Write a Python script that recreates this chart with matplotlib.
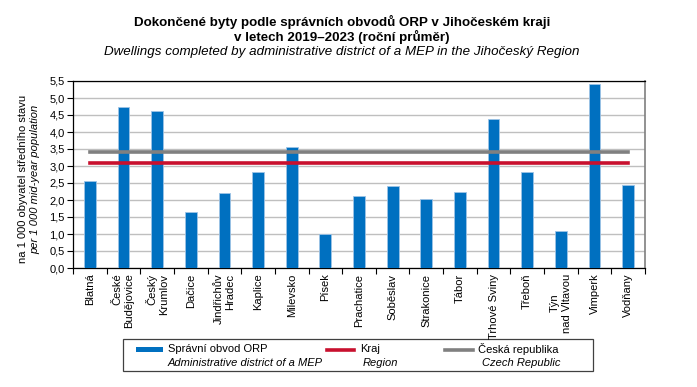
import matplotlib
matplotlib.use("Agg")
import matplotlib.pyplot as plt
import numpy as np
from matplotlib.lines import Line2D
from matplotlib.patches import Rectangle

plt.rcParams["font.family"] = ["Liberation Sans", "DejaVu Sans"]

districts = ["Blatná", "České\nBudějovice", "Český\nKrumlov", "Dačice", "Jindřichův\nHradec",
             "Kaplice", "Milevsko", "Písek", "Prachatice", "Soběslav", "Strakonice", "Tábor",
             "Trhové Sviny", "Třeboň", "Týn\nnad Vltavou", "Vimperk", "Vodňany"]
orp = [2.56, 4.74, 4.62, 1.66, 2.20, 2.83, 3.57, 1.00, 2.12, 2.40, 2.03, 2.24,
       4.38, 2.81, 1.08, 5.41, 2.44]
kraj = 3.10
cr = 3.41

BLUE = "#0070C0"
RED = "#C8102E"
GREY = "#808080"

fig = plt.figure(figsize=(6.97, 3.87), dpi=100)
ax = fig.add_axes([73 / 697, 1 - 268 / 387, 572 / 697, 187 / 387])

x = np.arange(len(districts))
ax.bar(x, orp, 0.35, color=BLUE, edgecolor="#9DC3E6", linewidth=0.6, zorder=3)
ax.plot([x[0], x[-1]], [cr, cr], color=GREY, lw=2.6, zorder=4)
ax.plot([x[0], x[-1]], [kraj, kraj], color=RED, lw=2.6, zorder=4)

ax.set_xlim(-0.5, len(districts) - 0.5)
ax.set_ylim(0, 5.5)
yt = np.arange(0, 5.51, 0.5)
ax.set_yticks(yt)
ax.set_yticklabels([f"{v:.1f}".replace(".", ",") for v in yt], fontsize=8)
ax.yaxis.grid(True, color="#BFBFBF", lw=1, zorder=0)
ax.tick_params(axis="y", length=4, width=0.8, pad=2)

ax.set_xticks(x)
ax.set_xticklabels(districts, rotation=90, fontsize=8, va="top", ha="center")
for lab in ax.get_xticklabels():
    lab.set_multialignment("center" if lab.get_text().startswith("Týn") else "right")
ax.set_xticks(np.arange(-0.5, len(districts), 1.0), minor=True)
ax.tick_params(axis="x", which="major", length=0, pad=4)
ax.tick_params(axis="x", which="minor", length=4, width=0.8)

for side in ["left", "bottom", "top"]:
    ax.spines[side].set_color("black")
    ax.spines[side].set_linewidth(0.9)
ax.spines["right"].set_color("#7F7F7F")
ax.spines["right"].set_linewidth(1.2)

fig.text(23 / 697, 1 - 179 / 387, "na 1 000 obyvatel středního stavu", rotation=90,
         ha="center", va="center", fontsize=8)
fig.text(35 / 697, 1 - 179 / 387, "per 1 000 mid-year population", rotation=90,
         ha="center", va="center", fontsize=8, style="italic")

fig.text(342 / 697, 1 - 22 / 387, "Dokončené byty podle správních obvodů ORP v Jihočeském kraji",
         ha="center", va="center", fontsize=9.6, weight="bold")
fig.text(342 / 697, 1 - 37 / 387, "v letech 2019–2023 (roční průměr)",
         ha="center", va="center", fontsize=9.6, weight="bold")
fig.text(342 / 697, 1 - 52 / 387,
         "Dwellings completed by administrative district of a MEP in the Jihočeský Region",
         ha="center", va="center", fontsize=9.6, style="italic")

# legend box
lax = fig.add_axes([0, 0, 1, 1], zorder=-1)
lax.set_xlim(0, 697)
lax.set_ylim(387, 0)
lax.axis("off")
lax.add_patch(Rectangle((123, 339), 470, 32, fill=False, edgecolor="#404040", lw=0.9))
lax.add_patch(Rectangle((136, 347), 27, 5, color=BLUE, lw=0))
lax.add_line(Line2D([327, 354], [349.5, 349.5], color=RED, lw=2.6))
lax.add_line(Line2D([445, 473], [349.5, 349.5], color=GREY, lw=2.6))
leg_items = [(168, "Správní obvod ORP", 168, "Administrative district of a MEP"),
             (360, "Kraj", 363, "Region"),
             (478, "Česká republika", 482, "Czech Republic")]
for x1, t1, x2, t2 in leg_items:
    lax.text(x1, 349, t1, fontsize=8, va="center", ha="left")
    lax.text(x2, 363, t2, fontsize=8, va="center", ha="left", style="italic")

fig.savefig("out.png", dpi=100)
